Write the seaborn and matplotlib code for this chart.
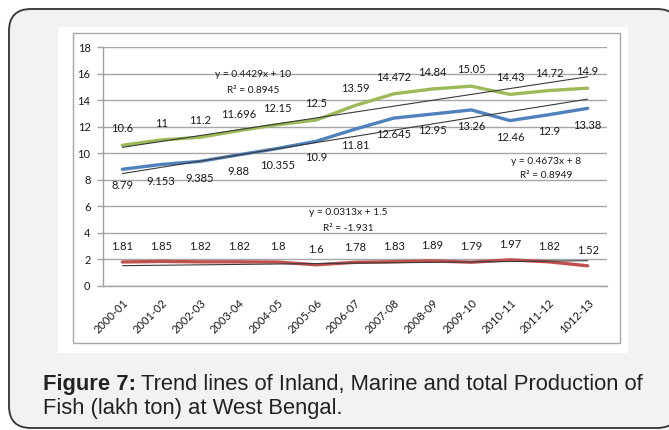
import pandas as pd
import seaborn as sns
import matplotlib.pyplot as plt
from matplotlib.patches import FancyBboxPatch, Rectangle

# values
years = ["2000-01", "2001-02", "2002-03", "2003-04", "2004-05", "2005-06", "2006-07",
         "2007-08", "2008-09", "2009-10", "2010-11", "2011-12", "1012-13"]
total = [10.6, 11, 11.2, 11.696, 12.15, 12.5, 13.59, 14.472, 14.84, 15.05, 14.43, 14.72, 14.9]
inland = [8.79, 9.153, 9.385, 9.88, 10.355, 10.9, 11.81, 12.645, 12.95, 13.26, 12.46, 12.9, 13.38]
marine = [1.81, 1.85, 1.82, 1.82, 1.8, 1.6, 1.78, 1.83, 1.89, 1.79, 1.97, 1.82, 1.52]
series = ["Total", "Inland", "Marine"]
slopes = [0.4429, 0.4673, 0.0313]
intercepts = [10, 8, 1.5]
r_squared = ["0.8945", "0.8949", "-1.931"]

colors = {"Total": "#9bbb59", "Inland": "#4f81bd", "Marine": "#c0504d"}

sns.set_theme(style="white")
plt.rcParams["font.family"] = ["Lato", "DejaVu Sans"]

W, H = 669, 430
fig = plt.figure(figsize=(W / 100, H / 100), dpi=100, facecolor="white")

# page-like background in pixel units
bg = fig.add_axes([0, 0, 1, 1], zorder=0)
bg.set_xlim(0, W)
bg.set_ylim(H, 0)
bg.axis("off")
bg.add_patch(FancyBboxPatch((9, 9), 670, 419, boxstyle="round,pad=0,rounding_size=22",
                            fc="#f1f2f4", ec="#333333", lw=1.3))
bg.add_patch(Rectangle((58, 27), 570, 326, fc="white", ec="none"))
bg.add_patch(Rectangle((72.5, 32.5), 547, 310, fc="none", ec="#a8a8a8", lw=1))

cap = bg.text(43, 390, "Figure 7:", family="Liberation Sans", fontsize=15.8,
              fontweight="bold", color="#222222", va="baseline")
fig.canvas.draw()
ext = cap.get_window_extent()
bg.text(ext.x1 + 5, 390, "Trend lines of Inland, Marine and total Production of",
        family="Liberation Sans", fontsize=15.8, color="#222222", va="baseline")
bg.text(43, 414, "Fish (lakh ton) at West Bengal.", family="Liberation Sans",
        fontsize=15.8, color="#222222", va="baseline")

# chart
ax = fig.add_axes([103 / W, 1 - 286 / H, 504 / W, 239 / H], zorder=2)
ax.patch.set_alpha(0)

pos = list(range(len(years)))
df = pd.DataFrame({
    "pos": pos * 3,
    "Production": total + inland + marine,
    "Series": ["Total"] * 13 + ["Inland"] * 13 + ["Marine"] * 13,
})
sns.lineplot(data=df, x="pos", y="Production", hue="Series", palette=colors,
             linewidth=2.4, legend=False, ax=ax, zorder=3)

trend = pd.DataFrame({
    "pos": pos * 3,
    "Trend": [slopes[k] * (p + 1) + intercepts[k] for k in range(3) for p in pos],
    "Series": [s for s in series for _ in pos],
})
sns.lineplot(data=trend, x="pos", y="Trend", units="Series", estimator=None,
             color="#3a3a3a", linewidth=0.8, ax=ax, zorder=4)

# data labels
for vals, dy in [(total, 12), (inland, -12), (marine, 11)]:
    for p, v in zip(pos, vals):
        ax.annotate(f"{v:g}", (p, v), xytext=(0, dy), textcoords="offset points",
                    ha="center", va="center", fontsize=8, color="#1a1a1a")

# trend equations
eq_pos = [(3.37, 15.95, 14.75), (10.93, 9.4, 8.3), (5.82, 5.5, 4.35)]
for k, (xp, y1, y2) in enumerate(eq_pos):
    ax.text(xp, y1, f"y = {slopes[k]}x + {intercepts[k]:g}", ha="center", va="center",
            fontsize=7.3, color="#1a1a1a")
    ax.text(xp, y2, f"R² = {r_squared[k]}", ha="center", va="center",
            fontsize=7.3, color="#1a1a1a")

ax.set_xlim(-0.5, 12.5)
ax.set_ylim(0, 18)
ax.set_yticks(range(0, 19, 2))
ax.set_xticks(pos)
ax.set_xticklabels(years, rotation=45, ha="right", rotation_mode="anchor", fontsize=8)
ax.set_xticks([p - 0.5 for p in pos] + [12.5], minor=True)
ax.tick_params(axis="x", which="major", length=0, pad=8, colors="#1a1a1a")
ax.tick_params(axis="x", which="minor", length=4, width=1, color="#a0a0a0", direction="out")
ax.tick_params(axis="y", length=4, width=1, color="#a0a0a0", labelsize=8,
               labelcolor="#1a1a1a", pad=5, left=True)
ax.grid(axis="y", color="#a6a6a6", linewidth=1)
ax.set_axisbelow(True)
ax.set_xlabel("")
ax.set_ylabel("")
for s in ["top", "right"]:
    ax.spines[s].set_visible(False)
for s in ["left", "bottom"]:
    ax.spines[s].set_color("#a0a0a0")
    ax.spines[s].set_linewidth(1)

fig.savefig("out.png", dpi=100, facecolor="white")
